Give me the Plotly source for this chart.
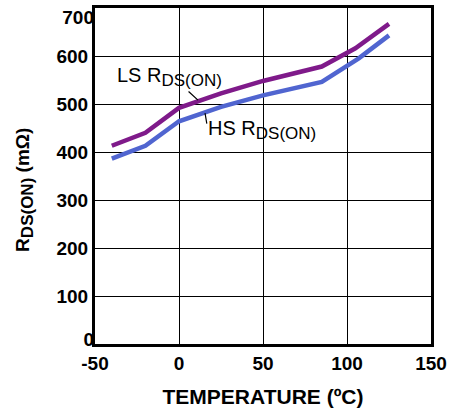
import plotly.graph_objects as go

temp_ls = [-40, -20, 0, 25, 50, 85, 105, 125]
ls_rdson = [413, 440, 492, 522, 548, 578, 616, 667]
temp_hs = [-40, -20, 0, 25, 50, 85, 107, 125]
hs_rdson = [386, 413, 464, 494, 518, 546, 595, 643]

x_ticks = [-50, 0, 50, 100, 150]
x_tick_labels = ["-50", "0", "50", "100", "150"]
y_ticks_mid = [100, 200, 300, 400, 500, 600]
y_tick_top = [700]
y_tick_bottom = [0]

FONT = "Liberation Sans, Arial, sans-serif"

fig = go.Figure()
fig.add_trace(go.Scatter(x=temp_hs, y=hs_rdson, mode="lines",
                         line=dict(color="#5065D0", width=4.5), name="HS"))
fig.add_trace(go.Scatter(x=temp_ls, y=ls_rdson, mode="lines",
                         line=dict(color="#7F1A8A", width=4.5), name="LS"))

SUB = '<sub><span style="font-size:17px">DS(ON)</span></sub>'

# labels
fig.add_annotation(x=-38, y=556, text="LS R" + SUB, showarrow=False,
                   xanchor="left", yanchor="middle",
                   font=dict(family=FONT, size=20, color="black"))
fig.add_annotation(x=16.2, y=446, text="HS R" + SUB, showarrow=False,
                   xanchor="left", yanchor="middle",
                   font=dict(family=FONT, size=20, color="black"))
# leader lines
fig.add_annotation(x=11.3, y=508, ax=4.8, ay=529, axref="x", ayref="y", text="",
                   showarrow=True, arrowhead=0, arrowwidth=1.2, arrowcolor="black")
fig.add_annotation(x=15.5, y=481, ax=16.7, ay=456, axref="x", ayref="y", text="",
                   showarrow=True, arrowhead=0, arrowwidth=1.2, arrowcolor="black")
# y-axis title
fig.add_annotation(xref="paper", yref="paper", x=-0.21, y=0.46,
                   text="<b>R" + SUB + " (mΩ)</b>", textangle=-90, showarrow=False,
                   xanchor="center", yanchor="middle",
                   font=dict(family=FONT, size=19, color="black"))

fig.update_layout(
    width=451, height=415,
    margin=dict(l=95, r=20, t=8, b=71, autoexpand=False),
    paper_bgcolor="white", plot_bgcolor="white",
    showlegend=False,
    font=dict(family=FONT, color="black"),
)
tick_font = dict(family=FONT, size=19, color="black", weight="bold")
fig.update_xaxes(range=[-50, 150], tickvals=x_ticks, ticktext=x_tick_labels, ticks="",
                 showgrid=True, gridcolor="black", gridwidth=1.3,
                 showline=True, linecolor="black", linewidth=3, mirror=True,
                 zeroline=False, automargin=False, ticklabeloverflow="allow",
                 tickfont=tick_font,
                 title=dict(text="<b>TEMPERATURE (ºC)</b>", standoff=17,
                            font=dict(family=FONT, size=21, color="black")))
fig.update_layout(
    yaxis=dict(range=[0, 700], tickvals=y_ticks_mid, ticks="",
               showgrid=True, gridcolor="black", gridwidth=1.3,
               showline=True, linecolor="black", linewidth=3, mirror=True,
               zeroline=False, automargin=False, ticklabeloverflow="allow",
               tickfont=tick_font),
    yaxis2=dict(range=[0, 700], tickvals=y_tick_top, ticks="", overlaying="y",
                side="left", showgrid=False, showline=False, zeroline=False,
                automargin=False, ticklabeloverflow="allow", ticklabelshift=9,
                tickfont=tick_font),
    yaxis3=dict(range=[0, 700], tickvals=y_tick_bottom, ticks="", overlaying="y",
                side="left", showgrid=False, showline=False, zeroline=False,
                automargin=False, ticklabeloverflow="allow", ticklabelshift=-5,
                tickfont=tick_font),
)
# invisible traces to activate the overlay axes
fig.add_trace(go.Scatter(x=[None], y=[None], yaxis="y2", showlegend=False, hoverinfo="skip"))
fig.add_trace(go.Scatter(x=[None], y=[None], yaxis="y3", showlegend=False, hoverinfo="skip"))

fig.write_html("out.html", config={"displayModeBar": False},
               post_script="document.body.style.margin='0';document.body.style.overflow='hidden';")
